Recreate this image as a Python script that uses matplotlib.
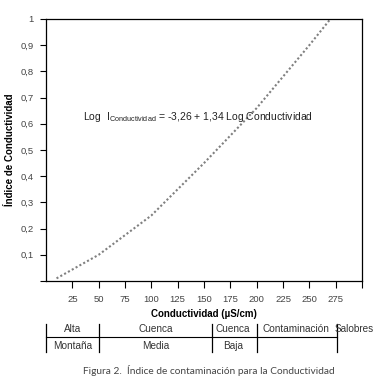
import matplotlib
matplotlib.use("Agg")
import matplotlib.pyplot as plt

plt.rcParams['font.family'] = ['Liberation Sans', 'DejaVu Sans']
plt.rcParams['mathtext.fontset'] = 'custom'
plt.rcParams['mathtext.rm'] = 'Liberation Sans'

# Data
conductividad = [10, 50, 100, 150, 200, 250, 270]
indice = [0.01, 0.10, 0.25, 0.45, 0.66, 0.90, 1.00]

x_ticks = [25, 50, 75, 100, 125, 150, 175, 200, 225, 250, 275]
y_ticks = [0.1, 0.2, 0.3, 0.4, 0.5, 0.6, 0.7, 0.8, 0.9, 1.0]
y_tick_labels = ["0,1", "0,2", "0,3", "0,4", "0,5", "0,6", "0,7", "0,8", "0,9", "1"]

# Classification table below the axis
bounds = [0, 50, 158, 200, 276]
row1 = ["Alta", "Cuenca", "Cuenca", "Contaminación", "Salobres"]
row2 = ["Montaña", "Media", "Baja", "", ""]
label_pos = [25.5, 104, 177.5, 237, 293]

fig = plt.figure(figsize=(3.8, 3.82), dpi=100)
W, H = 380, 382
left, right, top, bottom = 46, 362, 19, 281
ax = fig.add_axes([left / W, 1 - bottom / H, (right - left) / W, (bottom - top) / H])

ax.plot(conductividad, indice, linestyle=(0, (1, 1.1)), color='#808080', linewidth=1.5)

ax.set_xlim(0, 300)
ax.set_ylim(0, 1)
ax.set_xticks(x_ticks + [300])
ax.set_xticklabels([str(t) for t in x_ticks] + [""])
ax.set_yticks([0] + y_ticks)
ax.set_yticklabels([""] + y_tick_labels)
ax.tick_params(axis='x', direction='out', length=5, width=0.8, pad=5,
               labelsize=6.8, labelcolor='#444444')
ax.tick_params(axis='y', direction='out', length=4, width=0.8, pad=5,
               labelsize=6.8, labelcolor='#444444')
for s in ax.spines.values():
    s.set_linewidth(0.9)

ax.set_xlabel("Conductividad (µS/cm)", fontsize=7, fontweight='bold', labelpad=4)
ax.set_ylabel("Índice de Conductividad", fontsize=7, fontweight='bold')
ax.yaxis.set_label_coords(-0.097, 0.5)

ax.text(35, 0.625, r"Log  I$_{\mathrm{Conductividad}}$ = -3,26 + 1,34 Log Conductividad",
        fontsize=7.5, color='#222222', va='center', ha='left')

# Table
tb_top, tb_bot = 323, 353
tax = fig.add_axes([left / W, 1 - tb_bot / H, (right - left) / W, (tb_bot - tb_top) / H])
tax.set_xlim(0, 300)
tax.set_ylim(tb_bot, tb_top)
tax.axis('off')
for b in bounds:
    tax.plot([b, b], [tb_top + 1, tb_bot - 1], color='black', linewidth=0.9, clip_on=False)
tax.plot([bounds[0], bounds[-1]], [337, 337], color='black', linewidth=0.8, clip_on=False)
for xp, t1, t2 in zip(label_pos, row1, row2):
    tax.text(xp, 329.5, t1, ha='center', va='center', fontsize=7.2, color='#333333')
    if t2:
        tax.text(xp, 346, t2, ha='center', va='center', fontsize=7.2, color='#333333')

fig.text(209 / W, 1 - 370 / H, "Figura 2.  Índice de contaminación para la Conductividad",
         ha='center', va='center', fontsize=7.3, color='#444444', family=['Lato', 'DejaVu Sans'])

fig.savefig("out.png", dpi=100)
